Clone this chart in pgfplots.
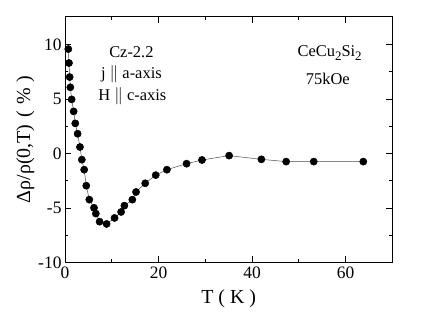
\documentclass[border=0pt]{standalone}
\usepackage{fontspec}
\setmainfont{Liberation Serif}
\usepackage{pgfplots}
\pgfplotsset{compat=1.18}

\newcommand{\sub}[1]{\raisebox{-4.5bp}{\fontsize{13}{15}\selectfont #1}}

\begin{document}
\begin{tikzpicture}
\begin{axis}[
  scale only axis,
  width=327.3bp, height=245.6bp,
  xmin=0, xmax=70, ymin=-10, ymax=12.54,
  xtick={0,20,40,60}, ytick={-10,-5,0,5,10},
  minor x tick num=1, minor y tick num=1,
  tick align=inside,
  major tick length=6.5bp, minor tick length=3.5bp,
  every tick/.style={black, line width=0.6pt},
  axis line style={line width=0.8pt},
  tick label style={font=\fontsize{17.5}{20}\selectfont},
  /pgf/number format/assume math mode=true,
  xticklabel style={yshift=-1bp},
  xlabel={T ( K )},
  ylabel={Δρ/ρ(0,T)\hspace{0.35em}(\hspace{0.3em}\%\hspace{0.3em})},
  label style={font=\fontsize{20}{23}\selectfont},
  xlabel style={yshift=-4bp},
  ylabel style={yshift=-3bp},
  clip=false,
]
\addplot[black!70, line width=0.5pt, mark=*, mark size=3.6bp,
  mark options={fill=black, draw=black}] coordinates {
(0.71,9.57) (0.85,8.29) (1.0,7.0) (1.14,6.06) (1.42,4.95) (1.85,3.85)
(2.2,2.75) (2.7,1.8) (3.2,0.58) (3.6,-0.58) (4.1,-1.5) (4.55,-2.97)
(5.2,-4.25) (6.2,-5.0) (6.6,-5.53) (7.4,-6.27) (8.9,-6.48) (10.6,-5.93)
(12.0,-5.38) (12.7,-4.8) (14.4,-4.25) (15.2,-3.55) (17.15,-2.75)
(19.4,-2.0) (21.8,-1.5) (26.0,-0.95) (29.3,-0.61) (35.1,-0.21)
(42.0,-0.55) (47.3,-0.76) (53.2,-0.76) (63.8,-0.76)
};
\node[font=\fontsize{16.5}{19}\selectfont] at (axis cs:14.2,9.3) {Cz-2.2};
\node[font=\fontsize{16.5}{19}\selectfont] at (axis cs:14.2,7.25) {j $\|$ a-axis};
\node[font=\fontsize{16.5}{19}\selectfont] at (axis cs:14.4,5.2) {H $\|$ c-axis};
\node[font=\fontsize{16.5}{19}\selectfont] at (axis cs:56.6,9.2) {CeCu\sub{2}Si\sub{2}};
\node[font=\fontsize{16.5}{19}\selectfont] at (axis cs:56.2,6.8) {75kOe};
\end{axis}
\path (current axis.south west) ++(-65bp,-63.7bp) rectangle ++(436bp,326bp);
\end{tikzpicture}
\end{document}
